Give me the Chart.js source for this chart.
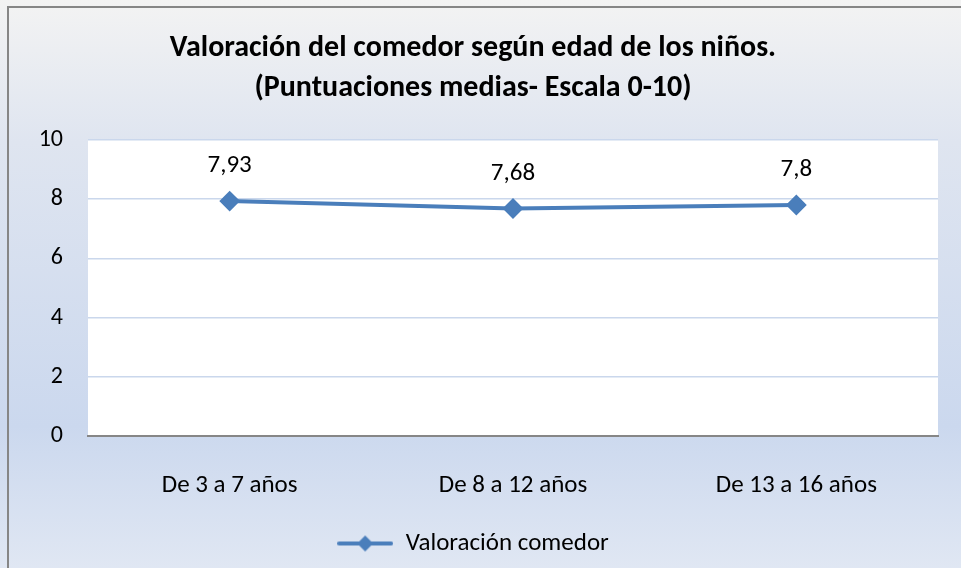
<!DOCTYPE html>
<html>
<head>
<meta charset="utf-8">
<script src="https://cdn.jsdelivr.net/npm/chart.js@4.4.1/dist/chart.umd.min.js"></script>
<style>
  html, body { margin: 0; padding: 0; background: #ffffff; }
  #wrap { width: 961px; height: 568px; position: relative; }
</style>
</head>
<body>
<div id="wrap"><canvas id="myChart"></canvas></div>
<script>
// Valoración del comedor por edad
const categories = ['De 3 a 7 años', 'De 8 a 12 años', 'De 13 a 16 años']
const valoracion = [7.93, 7.68, 7.8]
const valueLabels = ['7,93', '7,68', '7,8']
const seriesName = 'Valoración comedor'

const FONT = 'Carlito, Calibri, Lato, sans-serif'
const BLUE = '#4a7ebb'

// legend marker: line with a diamond in the middle
function legendMarker(){
    const c = document.createElement('canvas')
    c.width = 56
    c.height = 18
    const g = c.getContext('2d')
    g.strokeStyle = BLUE
    g.lineWidth = 4
    g.lineCap = 'round'
    g.beginPath()
    g.moveTo(2, 9)
    g.lineTo(54, 9)
    g.stroke()
    g.fillStyle = BLUE
    g.beginPath()
    g.moveTo(28, 1)
    g.lineTo(36, 9)
    g.lineTo(28, 17)
    g.lineTo(20, 9)
    g.closePath()
    g.fill()
    return c
}

// background gradient, frame and white plot area
const backgroundPlugin = {
    id: 'background',
    beforeDraw(chart){
        const {ctx, chartArea, width, height} = chart
        ctx.save()
        const grad = ctx.createLinearGradient(0, 0, 0, height)
        grad.addColorStop(0, '#f3f3f3')
        grad.addColorStop(0.25, '#dfe5f0')
        grad.addColorStop(0.75, '#cbd8ee')
        grad.addColorStop(1, '#e0e7f3')
        ctx.fillStyle = grad
        ctx.fillRect(0, 0, width, height)
        ctx.fillStyle = '#ffffff'
        ctx.fillRect(chartArea.left, chartArea.top, chartArea.right - chartArea.left, chartArea.bottom - chartArea.top)
        ctx.strokeStyle = '#868686'
        ctx.lineWidth = 2
        ctx.beginPath()
        ctx.moveTo(8, height + 2)
        ctx.lineTo(8, 7)
        ctx.lineTo(width + 2, 7)
        ctx.stroke()
        ctx.restore()
    }
}

// value labels above the points
const valueLabelPlugin = {
    id: 'valueLabels',
    afterDatasetsDraw(chart){
        const {ctx} = chart
        const meta = chart.getDatasetMeta(0)
        ctx.save()
        ctx.font = '25px ' + FONT
        ctx.fillStyle = '#000000'
        ctx.textAlign = 'center'
        ctx.textBaseline = 'middle'
        meta.data.forEach((pt, i) => {
            ctx.fillText(valueLabels[i], pt.x, pt.y - 35)
        })
        ctx.restore()
    }
}

const ctx = document.getElementById('myChart')
const myChart = new Chart(ctx, {
    type: 'line',
    data: {
        labels: categories,
        datasets: [{
            label: seriesName,
            data: valoracion,
            borderColor: BLUE,
            backgroundColor: BLUE,
            borderWidth: 4,
            pointStyle: 'rectRot',
            pointRadius: 9,
            pointBorderWidth: 2,
            pointBackgroundColor: BLUE,
            pointBorderColor: BLUE,
            tension: 0
        }]
    },
    options: {
        responsive: true,
        maintainAspectRatio: false,
        animation: false,
        layout: {
            padding: { left: 8, right: 23, top: 0, bottom: 2 }
        },
        scales: {
            x: {
                offset: true,
                grid: { display: false },
                border: { display: true, color: '#868686', width: 2 },
                ticks: {
                    color: '#000000',
                    padding: 27,
                    font: { family: FONT, size: 25 }
                },
                afterFit(scale){ scale.height = 90 }
            },
            y: {
                min: 0,
                max: 10,
                ticks: {
                    stepSize: 2,
                    color: '#000000',
                    padding: 25,
                    font: { family: FONT, size: 24 }
                },
                grid: { color: '#cad7ec', lineWidth: 1.5, drawTicks: false },
                border: { display: false },
                afterFit(scale){ scale.width = 80 }
            }
        },
        plugins: {
            title: {
                display: true,
                text: ['Valoración del comedor según edad de los niños.', '(Puntuaciones medias- Escala 0-10)'],
                color: '#000000',
                font: { family: FONT, size: 30, weight: 'bold', lineHeight: 1.33 },
                padding: { top: 29, bottom: 31 }
            },
            legend: {
                position: 'bottom',
                labels: {
                    color: '#000000',
                    font: { family: FONT, size: 25 },
                    usePointStyle: true,
                    pointStyle: legendMarker(),
                    pointStyleWidth: 56,
                    padding: 5
                }
            },
            tooltip: { enabled: false }
        }
    },
    plugins: [backgroundPlugin, valueLabelPlugin]
})
</script>
</body>
</html>
